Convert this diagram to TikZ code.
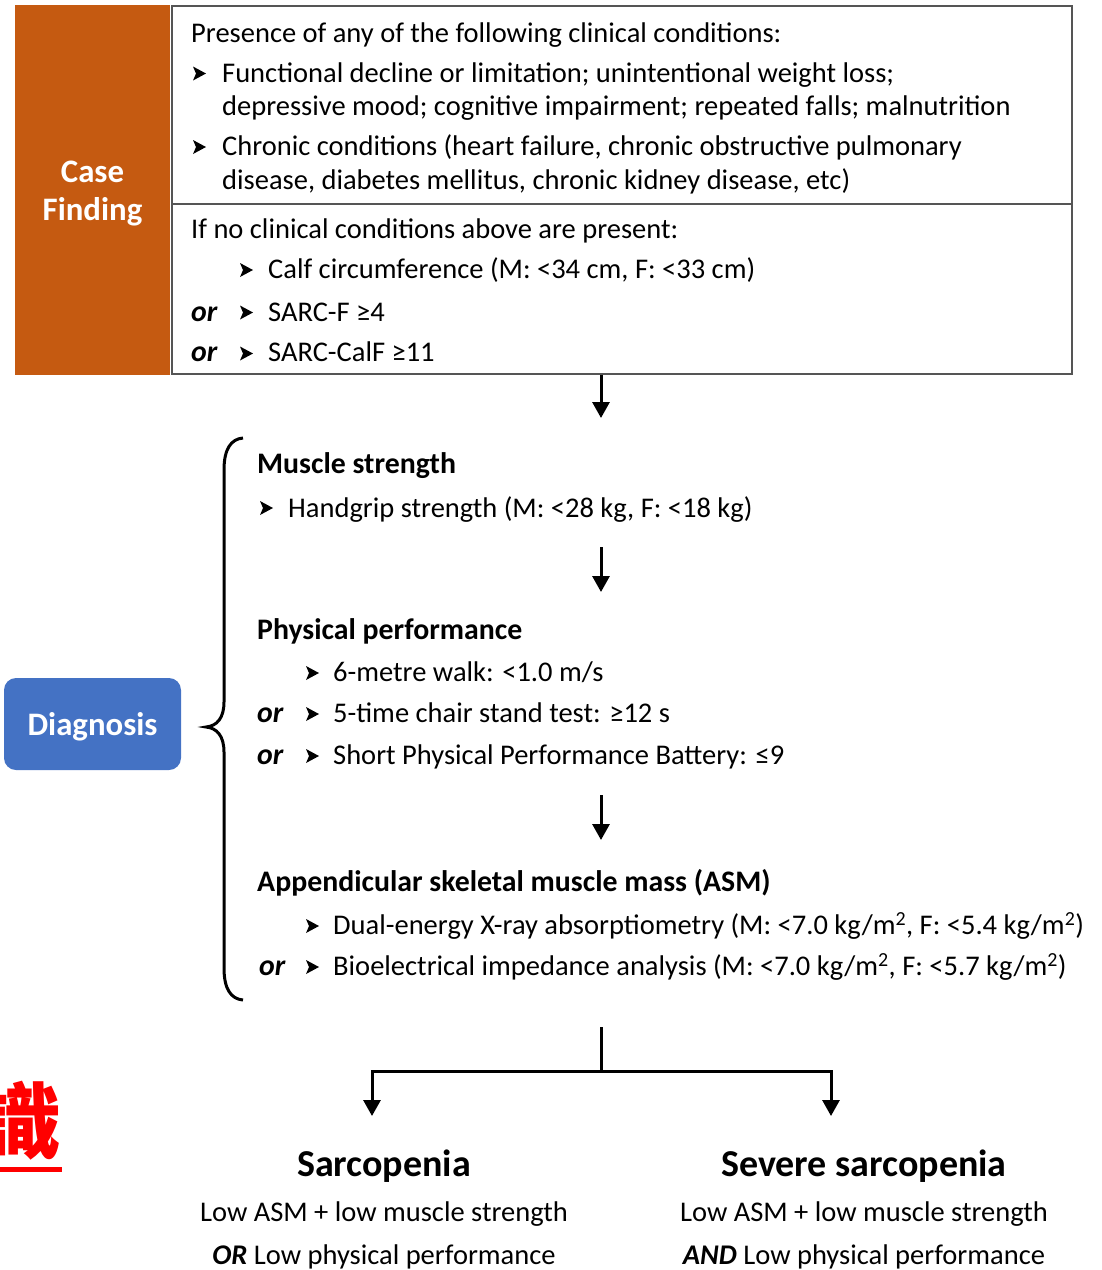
\documentclass[tikz,border=0pt]{standalone}
\usepackage{fontspec}
\setmainfont{Carlito}
\newfontfamily\cjkfont{Noto Sans CJK TC}
\usetikzlibrary{arrows.meta}

\definecolor{cforange}{HTML}{C55A11}
\definecolor{dxblue}{HTML}{4472C4}
\definecolor{frame}{HTML}{555555}

\tikzset{
  body/.style={anchor=base west, inner sep=0pt, font=\fontsize{28.5}{34}\selectfont},
  head/.style={anchor=base west, inner sep=0pt, font=\bfseries\fontsize{29.8}{36}\selectfont},
  ortag/.style={anchor=base west, inner sep=0pt, font=\bfseries\itshape\fontsize{29.8}{36}\selectfont},
  result/.style={anchor=base, inner sep=0pt, font=\bfseries\fontsize{38}{45}\selectfont},
  resline/.style={anchor=base, inner sep=0pt, font=\fontsize{28.5}{34}\selectfont},
  label/.style={anchor=base, inner sep=0pt, text=white, font=\bfseries\fontsize{32.8}{39}\selectfont},
  arr/.style={line width=3pt, -{Triangle[length=16pt,width=17pt]}},
  bul/.pic={\fill (0,-7) -- (13,0) -- (0,7) -- (3,0) -- cycle;}
}

\begin{document}
\begin{tikzpicture}[x=1pt,y=-1pt]
\useasboundingbox (0,0) rectangle (1102,1270);

% ---------- case finding ----------
\node[fill=cforange, minimum width=155, minimum height=370, anchor=north west, inner sep=0] (cf) at (15,5) {};
\node[label] (cflabel1) at (92.5,182) {Case};
\node[label] (cflabel2) at (92.5,220.5) {Finding};
\node[draw=frame, line width=1.5pt, minimum width=900, minimum height=368, anchor=north west, inner sep=0] (crit) at (171,5) {};
\draw[frame, line width=1.5pt] (crit.west |- 0,204) -- (crit.east |- 0,204);

\node[body] (c0) at (191,42.5) {Presence of any of the following clinical conditions:};
\pic at (193,73.5) {bul};
\node[body] (c1) at (222,82) {Functional decline or limitation; unintentional weight loss;};
\node[body] (c1b) at (222,115.5) {depressive mood; cognitive impairment; repeated falls; malnutrition};
\pic at (193,147) {bul};
\node[body] (c2) at (222,155.5) {Chronic conditions (heart failure, chronic obstructive pulmonary};
\node[body] (c2b) at (222,189.5) {disease, diabetes mellitus, chronic kidney disease, etc)};

\node[body] (c3) at (191,238.5) {If no clinical conditions above are present:};
\pic at (240,270) {bul};
\node[body] (c4) at (268,278) {Calf circumference (M: <34 cm, F: <33 cm)};
\node[ortag] (or1) at (191,321) {or};
\pic at (240,312.5) {bul};
\node[body] (c5) at (268,321) {SARC-F ≥4};
\node[ortag] (or2) at (191,361.5) {or};
\pic at (240,353.5) {bul};
\node[body] (c6) at (268,361.5) {SARC-CalF ≥11};

\coordinate (a1) at (601,418);
\draw[arr] (crit.south -| a1) -- (a1);

% ---------- diagnosis ----------
\node[fill=dxblue, rounded corners=12pt, minimum width=177, minimum height=92, inner sep=0] (dx) at (92.5,724) {};
\node[label] (dxlabel) at (92.5,735) {Diagnosis};

\draw[line width=3pt] (243,438) .. controls (231,439) and (224,449) .. (224,470)
  -- (224,702) .. controls (224,718) and (217,726) .. (206,727)
  .. controls (217,728) and (224,736) .. (224,752)
  -- (224,968) .. controls (224,989) and (231,999) .. (243,1000);

\node[head] (ms) at (257,473.5) {Muscle strength};
\pic at (260,508) {bul};
\node[body] (hg) at (288,517) {Handgrip strength (M: <28 kg, F: <18 kg)};

\coordinate (b1) at (601,547);
\coordinate (b2) at (601,592);
\draw[arr] (b1) -- (b2);

\node[head] (pp) at (257,639.5) {Physical performance};
\pic at (306,673) {bul};
\node[body] (p1) at (333,681.5) {6-metre walk: <1.0 m/s};
\node[ortag] (or3) at (257,722.5) {or};
\pic at (306,714) {bul};
\node[body] (p2) at (333,722.5) {5-time chair stand test: ≥12 s};
\node[ortag] (or4) at (257,764.5) {or};
\pic at (306,756) {bul};
\node[body] (p3) at (333,764.5) {Short Physical Performance Battery: ≤9};

\coordinate (b3) at (601,795);
\coordinate (b4) at (601,840);
\draw[arr] (b3) -- (b4);

\node[head] (asm) at (257,891.5) {Appendicular skeletal muscle mass (ASM)};
\pic at (306,926) {bul};
\node[body] (m1) at (333,934.5) {Dual-energy X-ray absorptiometry (M: <7.0 kg/m\textsuperscript{2}, F: <5.4 kg/m\textsuperscript{2})};
\node[ortag] (or5) at (259,975.5) {or};
\pic at (306,967) {bul};
\node[body] (m2) at (333,975.5) {Bioelectrical impedance analysis (M: <7.0 kg/m\textsuperscript{2}, F: <5.7 kg/m\textsuperscript{2})};

% ---------- outcome split ----------
\coordinate (split) at (601,1027);
\coordinate (jn) at (601,1071);
\coordinate (tipl) at (372,1116);
\coordinate (tipr) at (831,1116);
\draw[line width=3pt] (split) -- (jn);
\draw[arr, line join=miter] (jn) -| (tipl);
\draw[arr, line join=miter] (jn) -| (tipr);

\node[result] (sar) at (384,1176.5) {Sarcopenia};
\node[resline] (sar1) at (384,1221.5) {Low ASM + low muscle strength};
\node[resline] (sar2) at (384,1264.5) {\textbf{\textit{OR}} Low physical performance};

\node[result] (sev) at (864,1176.5) {Severe sarcopenia};
\node[resline] (sev1) at (864,1221.5) {Low ASM + low muscle strength};
\node[resline] (sev2) at (864,1264.5) {\textbf{\textit{AND}} Low physical performance};

% ---------- red mark ----------
\node[anchor=base east, inner sep=0pt, text=red, font=\cjkfont\bfseries\fontsize{83}{83}\selectfont] (mark) at (62,1152) {識};
\draw[red, line width=4.5pt] (-5,1169.5) -- (62,1169.5);
\end{tikzpicture}
\end{document}
